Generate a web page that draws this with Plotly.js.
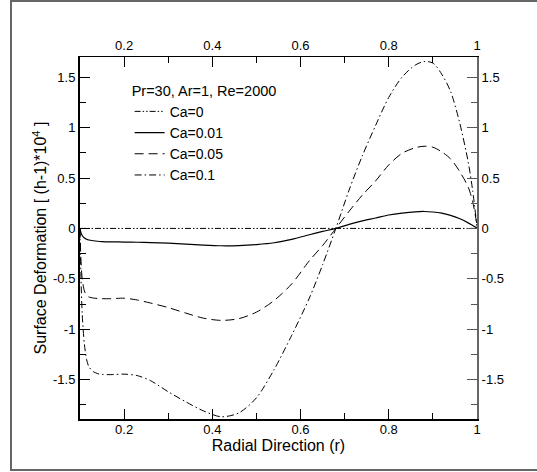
<!DOCTYPE html>
<html>
<head>
<meta charset="utf-8">
<script src="https://cdn.plot.ly/plotly-3.0.1.min.js"></script>
<style>html,body{margin:0;padding:0;background:#fff;}#chart{width:537px;height:472px;}</style>
</head>
<body>
<div id="chart"></div>
<script>
// Radial positions
const r = [0.1, 0.102, 0.105, 0.11, 0.115, 0.12, 0.13, 0.14, 0.15, 0.17, 0.2, 0.23, 0.26, 0.3, 0.34, 0.38, 0.42, 0.46, 0.5, 0.54, 0.58, 0.62, 0.65, 0.68, 0.71, 0.74, 0.77, 0.8, 0.83, 0.86, 0.88, 0.9, 0.92, 0.94, 0.96, 0.98, 0.99, 1.0];
// Surface deformation (h-1)*1e4
const ca0   = [0, 0, 0, 0, 0, 0, 0, 0, 0, 0, 0, 0, 0, 0, 0, 0, 0, 0, 0, 0, 0, 0, 0, 0, 0, 0, 0, 0, 0, 0, 0, 0, 0, 0, 0, 0, 0, 0];
const ca001 = [0, -0.04, -0.07, -0.095, -0.108, -0.115, -0.122, -0.127, -0.13, -0.133, -0.135, -0.137, -0.14, -0.146, -0.155, -0.165, -0.172, -0.17, -0.16, -0.142, -0.108, -0.063, -0.03, 0, 0.04, 0.075, 0.103, 0.133, 0.152, 0.165, 0.168, 0.163, 0.152, 0.13, 0.098, 0.055, 0.03, 0.005];
const ca005 = [0, -0.3, -0.5, -0.62, -0.665, -0.68, -0.69, -0.695, -0.697, -0.697, -0.692, -0.71, -0.74, -0.785, -0.84, -0.89, -0.912, -0.895, -0.83, -0.715, -0.55, -0.32, -0.17, 0, 0.17, 0.33, 0.47, 0.63, 0.745, 0.8, 0.815, 0.805, 0.76, 0.69, 0.57, 0.41, 0.27, 0.03];
const ca01  = [0, -0.45, -0.85, -1.15, -1.3, -1.37, -1.42, -1.44, -1.448, -1.45, -1.445, -1.46, -1.51, -1.62, -1.72, -1.81, -1.868, -1.83, -1.68, -1.4, -1.06, -0.69, -0.36, 0, 0.38, 0.72, 1.02, 1.3, 1.5, 1.62, 1.655, 1.64, 1.53, 1.36, 1.06, 0.66, 0.38, 0.02];
const seriesNames = ['Ca=0', 'Ca=0.01', 'Ca=0.05', 'Ca=0.1'];
const legendTitle = 'Pr=30, Ar=1, Re=2000';
// Tick labels
const xTickVals = [0.2, 0.4, 0.6, 0.8, 1];
const xTickText = ['0.2', '0.4', '0.6', '0.8', '1'];
const yTickVals = [-1.5, -1, -0.5, 0, 0.5, 1, 1.5];
const yTickText = ['-1.5', '-1', '-0.5', '0', '0.5', '1', '1.5'];
const xRange = [0.1, 1.0];
const yRange = [-1.89, 1.70];

const FONT = 'Arial, "Liberation Sans", sans-serif';

const traces = [
  {x: r, y: ca0, name: seriesNames[0], mode: 'lines', xaxis: 'x2', yaxis: 'y2',
   line: {color: '#000', width: 1, dash: '6px,2px,1.5px,2px,1.5px,2px'}},
  {x: r, y: ca001, name: seriesNames[1], mode: 'lines',
   line: {color: '#000', width: 1.2, shape: 'spline', smoothing: 0.8}},
  {x: r, y: ca005, name: seriesNames[2], mode: 'lines',
   line: {color: '#000', width: 1, dash: '9px,5px', shape: 'spline', smoothing: 0.8}},
  {x: r, y: ca01, name: seriesNames[3], mode: 'lines',
   line: {color: '#000', width: 1, dash: '7px,3px,1.5px,3px', shape: 'spline', smoothing: 0.8}}
];

const tickFont = {family: FONT, size: 13, color: '#000'};

const layout = {
  width: 537, height: 472,
  margin: {l: 80, r: 60, t: 57, b: 53, pad: 0},
  paper_bgcolor: '#fff', plot_bgcolor: '#fff',
  font: {family: FONT, color: '#000'},
  showlegend: true,
  legend: {
    x: 0.125, y: 0.945, xanchor: 'left', yanchor: 'top',
    bgcolor: 'rgba(0,0,0,0)', borderwidth: 0,
    font: {family: FONT, size: 14, color: '#000'},
    title: {text: legendTitle, font: {family: FONT, size: 14.5, color: '#000'}}
  },
  xaxis: {
    range: xRange, showgrid: false, zeroline: false,
    showline: true, linecolor: '#000', linewidth: 2,
    ticks: 'inside', ticklen: 10, tickwidth: 1, tickcolor: '#000',
    tickvals: xTickVals, ticktext: xTickText, tickfont: tickFont,
    ticklabelstandoff: -3,
    minor: {dtick: 0.1, tick0: 0, ticks: 'inside', ticklen: 6, tickwidth: 1, tickcolor: '#000', showgrid: false},
    title: {text: 'Radial Direction (r)', font: {family: FONT, size: 16, color: '#000'}, standoff: 0},
    automargin: false
  },
  xaxis2: {
    range: xRange, overlaying: 'x', side: 'top', anchor: 'y',
    showgrid: false, zeroline: false,
    showline: true, linecolor: '#000', linewidth: 1.5,
    ticks: 'inside', ticklen: 10, tickwidth: 1, tickcolor: '#000',
    tickvals: xTickVals, ticktext: xTickText, tickfont: tickFont,
    minor: {dtick: 0.1, tick0: 0, ticks: 'inside', ticklen: 6, tickwidth: 1, tickcolor: '#000', showgrid: false},
    automargin: false
  },
  yaxis: {
    range: yRange, showgrid: false, zeroline: false,
    showline: true, linecolor: '#000', linewidth: 2,
    ticks: 'inside', ticklen: 10, tickwidth: 1, tickcolor: '#000',
    tickvals: yTickVals, ticktext: yTickText, tickfont: tickFont,
    minor: {dtick: 0.25, tick0: 0, ticks: 'inside', ticklen: 6, tickwidth: 1, tickcolor: '#000', showgrid: false},
    title: {text: 'Surface Deformation [ (h-1)*10<sup>4</sup> ]', font: {family: FONT, size: 16, color: '#000'}, standoff: 2},
    automargin: false
  },
  yaxis2: {
    range: yRange, overlaying: 'y', side: 'right', anchor: 'x',
    showgrid: false, zeroline: false,
    showline: true, linecolor: '#666', linewidth: 2,
    ticks: 'inside', ticklen: 10, tickwidth: 1, tickcolor: '#555',
    tickvals: yTickVals, ticktext: yTickText, tickfont: tickFont,
    minor: {dtick: 0.25, tick0: 0, ticks: 'inside', ticklen: 6, tickwidth: 1, tickcolor: '#555', showgrid: false},
    automargin: false
  },
  shapes: [
    {type: 'rect', xref: 'paper', yref: 'paper', layer: 'below',
     x0: -0.1738, x1: 1.2, y0: -0.1409, y1: 1.1547,
     line: {color: '#666', width: 2}, fillcolor: 'rgba(0,0,0,0)'}
  ]
};

Plotly.newPlot('chart', traces, layout, {displayModeBar: false, staticPlot: true});
</script>
</body>
</html>
